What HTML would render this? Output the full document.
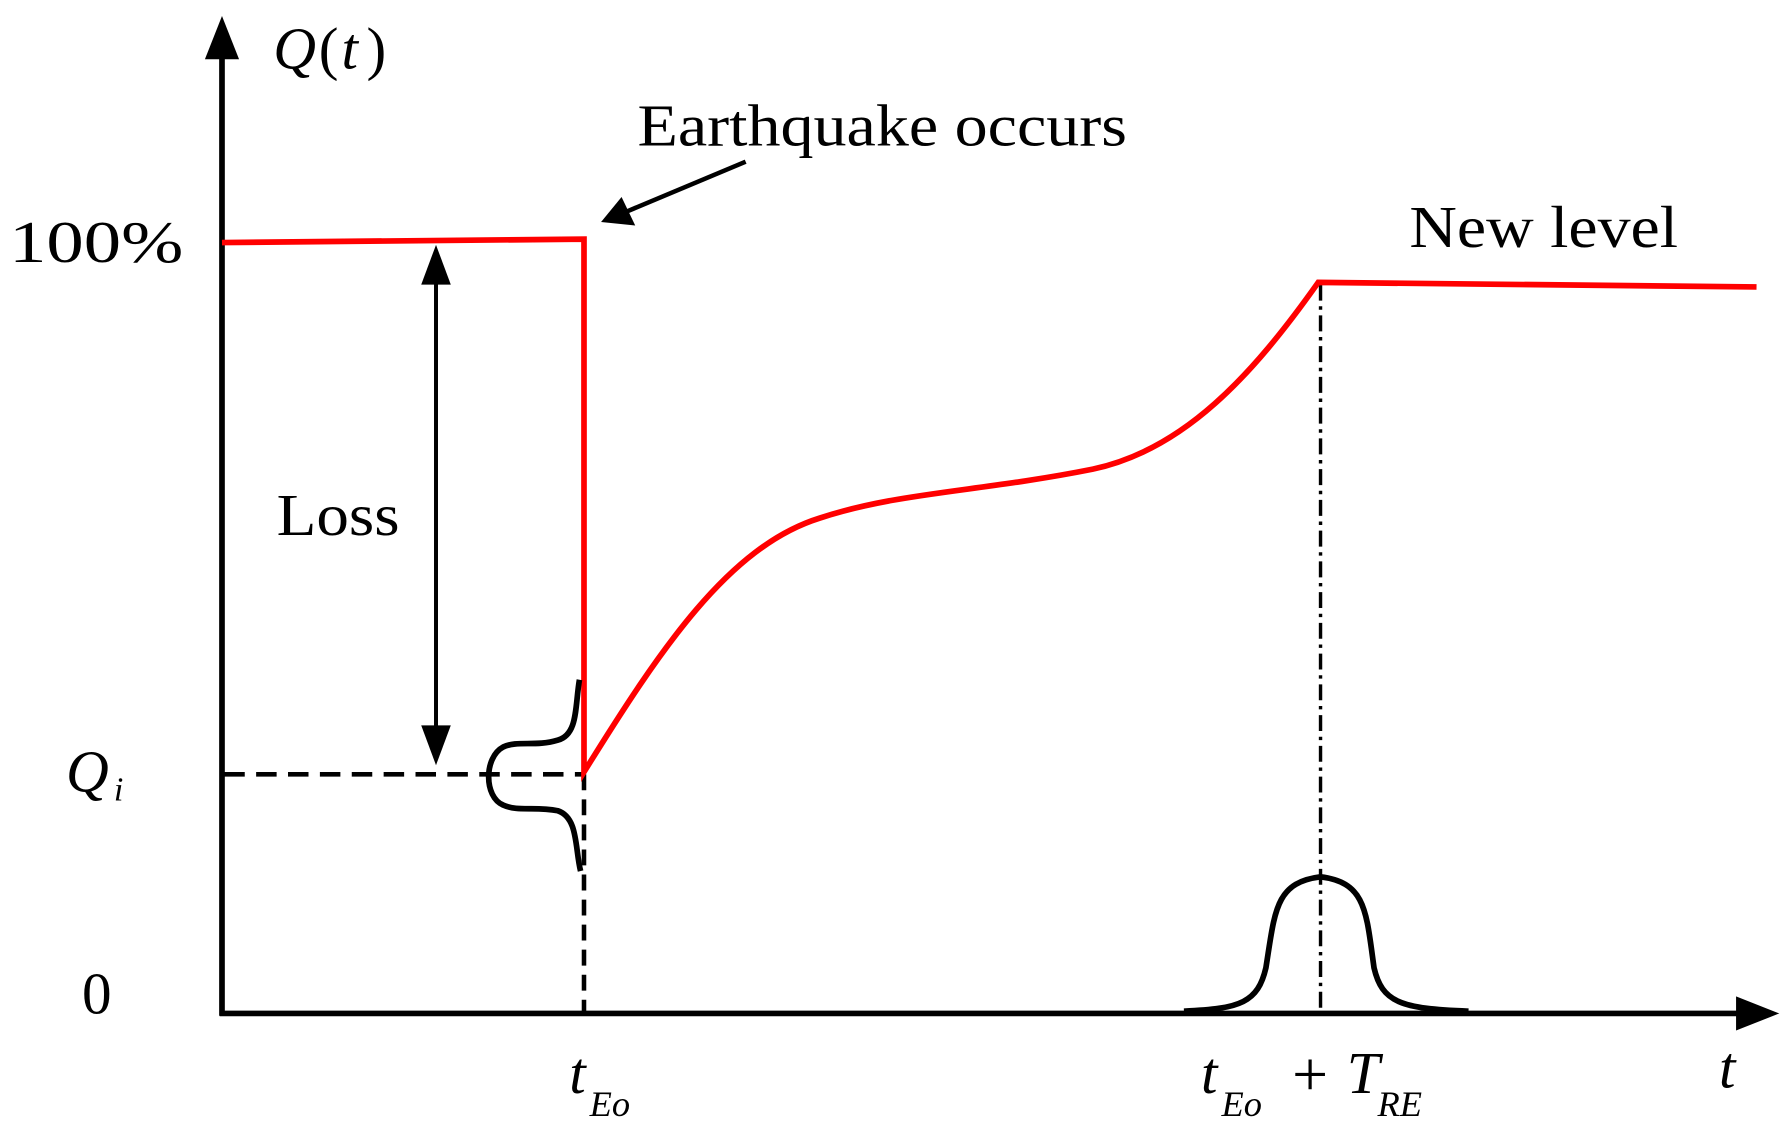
<!DOCTYPE html>
<html><head><meta charset="utf-8"><style>html,body{margin:0;padding:0;background:#fff}svg{display:block}</style></head>
<body>
<svg width="1785" height="1133" viewBox="0 0 1568 995" preserveAspectRatio="none" xmlns="http://www.w3.org/2000/svg" font-family="'Liberation Serif',serif">
<rect width="1568" height="995" fill="#fff"/>
<line x1="195" y1="892" x2="195" y2="45" stroke="#000" stroke-width="5"/>
<polygon points="195,14 180,52 210,52" fill="#000"/>
<line x1="193" y1="890" x2="1530" y2="890" stroke="#000" stroke-width="5"/>
<polygon points="1563,890 1525,875 1525,905" fill="#000"/>
<line x1="197" y1="680" x2="513" y2="680" stroke="#000" stroke-width="4" stroke-dasharray="18,10"/>
<line x1="513" y1="680" x2="513" y2="890" stroke="#000" stroke-width="4" stroke-dasharray="14,8"/>
<line x1="1160" y1="250" x2="1160" y2="890" stroke="#000" stroke-width="3" stroke-dasharray="14,5,3,5"/>
<path d="M195,213 L513,210 L513,678 C580,570 640,480 720,455 C790,432 860,432 960,412 C1040,395 1100,330 1158,248 L1543,252" fill="none" stroke="#f00" stroke-width="5"/>
<line x1="383" y1="240" x2="383" y2="645" stroke="#000" stroke-width="3.5"/>
<polygon points="383,215 370,250 396,250" fill="#000"/>
<polygon points="383,672 370,637 396,637" fill="#000"/>
<line x1="655" y1="142" x2="550" y2="186" stroke="#000" stroke-width="4"/>
<polygon points="528,195 546,173 558,198" fill="#000"/>
<path d="M509,597 C505,620 508,645 490,650 C470,656 455,650 442,656 C425,665 425,700 442,707 C455,713 470,708 490,712 C508,718 505,745 510,765" fill="none" stroke="#000" stroke-width="5"/>
<path d="M1040,888 C1090,886 1105,880 1112,850 C1120,800 1120,775 1160,770 C1200,775 1200,800 1207,850 C1214,880 1230,886 1290,888" fill="none" stroke="#000" stroke-width="5"/>
<text x="240" y="60" font-size="52" font-style="italic">Q</text>
<text x="280" y="60" font-size="52">(</text>
<text x="300" y="60" font-size="52" font-style="italic">t</text>
<text x="322" y="60" font-size="52">)</text>
<text x="560" y="128" font-size="52" textLength="430" lengthAdjust="spacingAndGlyphs">Earthquake occurs</text>
<text x="8" y="230" font-size="52" textLength="153" lengthAdjust="spacingAndGlyphs">100%</text>
<text x="1238" y="217" font-size="52" textLength="236" lengthAdjust="spacingAndGlyphs">New level</text>
<text x="243" y="470" font-size="52" textLength="108" lengthAdjust="spacingAndGlyphs">Loss</text>
<text x="58" y="695" font-size="52" font-style="italic">Q</text>
<text x="100" y="703" font-size="30" font-style="italic">i</text>
<text x="72" y="890" font-size="52">0</text>
<text x="500" y="960" font-size="52" font-style="italic">t</text>
<text x="518" y="980" font-size="32" font-style="italic">Eo</text>
<text x="1055" y="960" font-size="52" font-style="italic">t</text>
<text x="1073" y="980" font-size="32" font-style="italic">Eo</text>
<text x="1135" y="962" font-size="56">+</text>
<text x="1183" y="960" font-size="52" font-style="italic">T</text>
<text x="1210" y="980" font-size="32" font-style="italic">RE</text>
<text x="1510" y="955" font-size="52" font-style="italic">t</text>
</svg>
</body></html>
